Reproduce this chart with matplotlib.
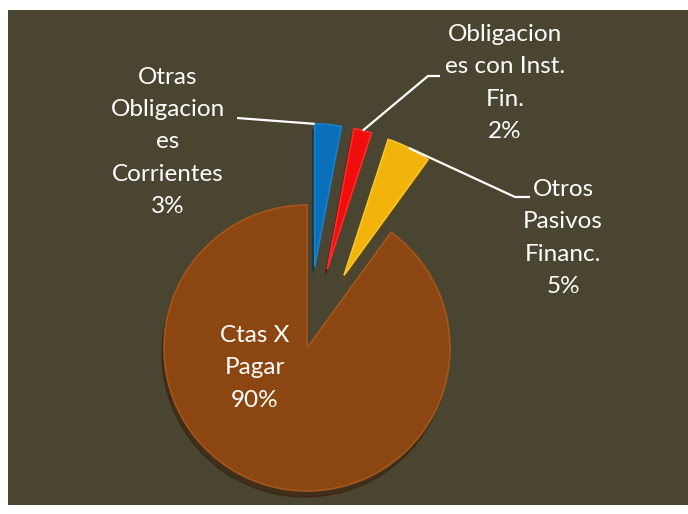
import matplotlib.pyplot as plt
from matplotlib.patches import Rectangle
import numpy as np

# Pie data (clockwise from 12 o'clock)
labels = ["Otras\nObligacion\nes\nCorrientes", "Obligacion\nes con Inst.\nFin.",
          "Otros\nPasivos\nFinanc.", "Ctas X\nPagar"]
shares = [3, 2, 5, 90]
colors = ["#0a6fba", "#f20d0d", "#f2b40a", "#8c4612"]
edge_colors = ["#1b80c8", "#ff2a2a", "#f7c430", "#a4561c"]
explode = [0.57, 0.57, 0.57, 0.0]

W, H = 688, 514
bg = "#4a4530"

# pie centre and radius in pixels
cx, cy, rad = 307, 514 - 348, 143

fig = plt.figure(figsize=(W / 100, H / 100), dpi=100, facecolor="white")
fig.patches.append(Rectangle((8 / W, 9 / H), 680 / W, 495 / H, transform=fig.transFigure,
                             facecolor=bg, edgecolor="none", zorder=-10))

ax = fig.add_axes([0, 0, 1, 1])
ax.set_zorder(1)
wedges, _ = ax.pie(shares, colors=colors, explode=explode, startangle=90, counterclock=False,
                   radius=1.0, wedgeprops=dict(linewidth=1.2),
                   shadow=dict(ox=-0.01, oy=-0.03, shade=0.6))
for w, ec in zip(wedges, edge_colors):
    w.set_edgecolor(ec)
ax.set_xlim(-cx / rad, (W - cx) / rad)
ax.set_ylim(-cy / rad, (H - cy) / rad)
ax.set_aspect("equal")
ax.axis("off")

font = dict(family="Lato", fontsize=17.5, color="white", ha="center", va="center",
            linespacing=1.66, zorder=10)

# text block centres in pixels (from top-left)
label_pos = [(168, 142), (505, 83), (563, 238), (255, 368)]
# which angle on the outer arc the leader touches (fraction along wedge)
anchor_frac = [1.0, 0.5, 0.5, None]
# elbow points of the leader lines (pixels from top-left)
leader_pts = [[(237, 118)], [(428, 76), (440, 76)], [(515, 197), (530, 197)], None]

to_data = ax.transData.inverted()
for i, w in enumerate(wedges):
    x, y = label_pos[i]
    fig.text(x / W, 1 - y / H, f"{labels[i]}\n{shares[i]}%", **font)
    if anchor_frac[i] is None:
        continue
    t = np.radians(w.theta1 + anchor_frac[i] * (w.theta2 - w.theta1))
    ax_pt = (w.center[0] + w.r * np.cos(t), w.center[1] + w.r * np.sin(t))
    pts = [ax_pt] + [tuple(to_data.transform((px, H - py))) for px, py in leader_pts[i]]
    xs, ys = zip(*pts)
    ax.plot(xs, ys, color="white", lw=1.6, zorder=5, solid_capstyle="butt")

fig.savefig("out.png", dpi=100, facecolor="white")
